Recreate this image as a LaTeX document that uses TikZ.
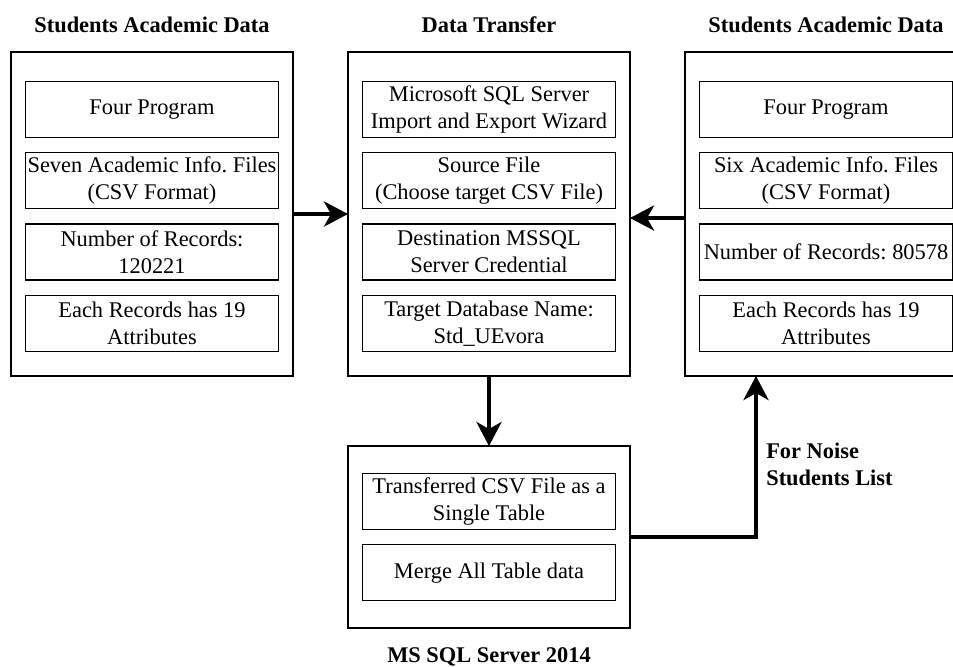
\documentclass[tikz,border=0pt]{standalone}
\usepackage{fontspec}
\setmainfont{Liberation Serif}
\usetikzlibrary{positioning,arrows.meta}
\frenchspacing

\begin{document}
\begin{tikzpicture}[
    x=0.5pt, y=-0.5pt,
    font=\fontsize{11.2}{13.5}\selectfont,
    node distance=7pt,
    outer/.style={rectangle, draw, line width=1pt, minimum width=141pt, minimum height=162pt, inner sep=0pt, outer sep=0pt},
    item/.style={rectangle, draw, line width=0.6pt, minimum width=126.5pt, minimum height=28pt, align=center, inner sep=0.5pt},
    heading/.style={font=\fontsize{11.2}{13.5}\selectfont\bfseries, inner sep=0pt},
    flow/.style={-{Stealth[length=12pt, width=12.5pt, inset=3.5pt]}, line width=2.3pt}
]
    \useasboundingbox (0,0) rectangle (953,666);
    \clip (0,0) rectangle (953,666);

    % Outer boxes
    \node (src1) [outer] at (152,214) {};
    \node (transfer) [outer, right=27.5pt of src1] {};
    \node (src2) [outer, right=27.5pt of transfer] {};
    \node (server) [outer, below=35pt of transfer, minimum height=91pt] {};

    % Headings
    \node (src1title) [heading, above=9.5pt of src1] {Students Academic Data};
    \node (transfertitle) [heading, above=9.5pt of transfer] {Data Transfer};
    \node (src2title) [heading, above=9.5pt of src2] {Students Academic Data};
    \node (servertitle) [heading, below=9.5pt of server] {MS SQL Server 2014};

    % First academic data
    \node (src1a) [item, below=14.5pt of src1.north] {Four Program};
    \node (src1b) [item, below=of src1a] {Seven Academic Info. Files\\(CSV Format)};
    \node (src1c) [item, below=of src1b] {Number of Records:\\120221};
    \node (src1d) [item, below=of src1c] {Each Records has 19\\Attributes};

    % Data transfer steps
    \node (wizard) [item, below=14.5pt of transfer.north] {Microsoft SQL Server\\Import and Export Wizard};
    \node (source) [item, below=of wizard] {Source File\\(Choose target CSV File)};
    \node (dest) [item, below=of source] {Destination MSSQL\\Server Credential};
    \node (target) [item, below=of dest] {Target Database Name:\\Std\_UEvora};

    % Second academic data
    \node (src2a) [item, below=14.5pt of src2.north] {Four Program};
    \node (src2b) [item, below=of src2a] {Six Academic Info. Files\\(CSV Format)};
    \node (src2c) [item, below=of src2b] {Number of Records: 80578};
    \node (src2d) [item, below=of src2c] {Each Records has 19\\Attributes};

    % SQL server
    \node (single) [item, below=13.5pt of server.north] {Transferred CSV File as a\\Single Table};
    \node (merge) [item, below=of single] {Merge All Table data};

    % Arrows
    \draw [flow] (src1) -- (transfer);
    \draw [flow] ([yshift=-2pt]src2.west) -- ([yshift=-2pt]transfer.east);
    \draw [flow] (transfer) -- (server);
    \draw [flow] (server.east) -| node (noise) [heading, pos=0.8, anchor=north west, xshift=4pt, align=left] {For Noise\\Students List} ([xshift=-35pt]src2.south);

\end{tikzpicture}
\end{document}
